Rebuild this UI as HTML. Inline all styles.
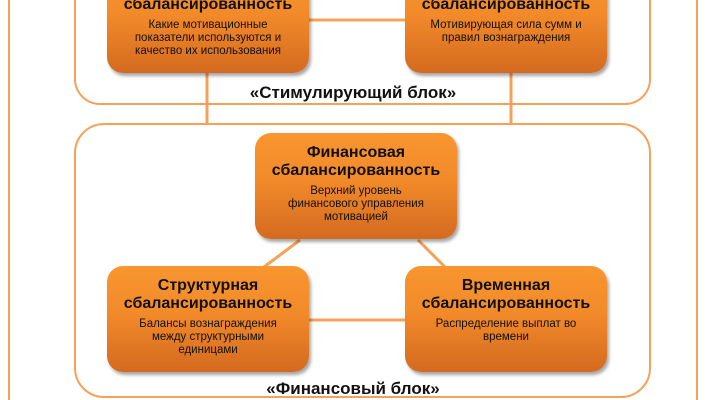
<!DOCTYPE html>
<html><head><meta charset="utf-8"><style>
body{margin:0;width:706px;height:400px;overflow:hidden;background:#fff;position:relative;font-family:"Liberation Sans","DejaVu Sans",sans-serif;}
.a{position:absolute;}
.frame{position:absolute;border:2.5px solid #f7a158;border-radius:26px;box-sizing:border-box;}
.node{position:absolute;width:202px;height:106px;border-radius:16px;background:linear-gradient(#f8962f,#f28a2a 45%,#d46a1f);box-shadow:2px 3px 3px rgba(0,0,0,0.35);text-align:center;color:#111;box-sizing:border-box;padding-top:11px;}
.t{font-weight:bold;font-size:16px;line-height:18px;}
.s{font-size:11.5px;line-height:13px;margin-top:5px;}
.lbl{position:absolute;font-weight:bold;font-size:17px;width:706px;text-align:center;color:#111;}
</style></head><body>
<div class="a" style="left:8px;top:0;width:2px;height:400px;background:#f7a158"></div>
<div class="a" style="left:696px;top:0;width:2px;height:400px;background:#f7a158"></div>
<div class="frame" style="left:74px;top:-40px;width:577px;height:145px;"></div>
<div class="frame" style="left:74px;top:123px;width:577px;height:275px;border-radius:30px;"></div>
<svg class="a" style="left:0;top:0" width="706" height="400">
<g stroke="#f7a158" stroke-width="3" fill="none">
<line x1="300" y1="20" x2="410" y2="20"/>
<line x1="207" y1="70" x2="207" y2="124"/>
<line x1="511" y1="70" x2="511" y2="124"/>
<line x1="300" y1="240" x2="260" y2="270"/>
<line x1="418" y1="240" x2="448" y2="270"/>
<line x1="300" y1="320" x2="410" y2="320"/>
</g></svg>
<div class="node" style="left:107px;top:-33px;"><div class="t">Мотивационная<br>сбалансированность</div><div class="s">Какие мотивационные<br>показатели используются и<br>качество их использования</div></div>
<div class="node" style="left:405px;top:-33px;"><div class="t">Стимулирующая<br>сбалансированность</div><div class="s">Мотивирующая сила сумм и<br>правил вознаграждения</div></div>
<div class="lbl" style="left:0;top:83px;">«Стимулирующий блок»</div>
<div class="node" style="left:255px;top:133px;"><div class="t">Финансовая<br>сбалансированность</div><div class="s">Верхний уровень<br>финансового управления<br>мотивацией</div></div>
<div class="node" style="left:107px;top:266px;"><div class="t">Структурная<br>сбалансированность</div><div class="s">Балансы вознаграждения<br>между структурными<br>единицами</div></div>
<div class="node" style="left:405px;top:266px;"><div class="t">Временная<br>сбалансированность</div><div class="s">Распределение выплат во<br>времени</div></div>
<div class="lbl" style="left:0;top:379px;">«Финансовый блок»</div>
</body></html>
